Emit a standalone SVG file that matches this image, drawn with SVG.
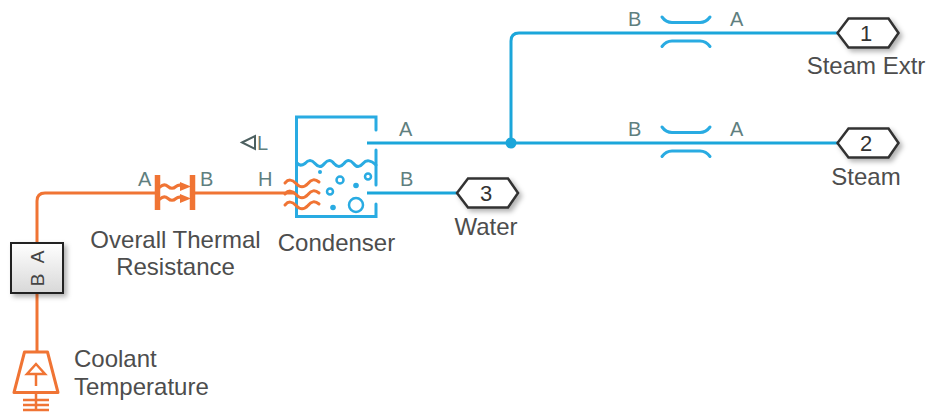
<svg xmlns="http://www.w3.org/2000/svg" width="929" height="416" viewBox="0 0 929 416">
<defs>
<linearGradient id="boxFill" x1="0" y1="0" x2="0" y2="1"><stop offset="0" stop-color="#ffffff"/><stop offset="1" stop-color="#d8d8d8"/></linearGradient>
<filter id="shadow" x="-20%" y="-20%" width="150%" height="150%"><feDropShadow dx="3" dy="3" stdDeviation="2.5" flood-color="#000" flood-opacity="0.3"/></filter>
<path id="restrictor" d="M662 0Q666 5.500 672 5.500H700Q706 5.500 710 0M662 29.500Q666 24 672 24H700Q706 24 710 29.500"/>
<path id="hex" d="M0 0L11 -14.500H51L61 0L51 14.500H11Z"/>
<path id="heatwave" d="M285 2Q290 -4 296 2.500Q302 9 308 2.500Q313 -4 319 1"/>
<path id="reswave" d="M160 1Q164 -3 168 0.500Q172 4 176 0.500Q179 -2 183 0"/>
</defs>
<style>
text{font-family:"Liberation Sans",Arial,sans-serif}
.lbl{font-size:24px;fill:#4d4d4d}
.pin{font-size:20px;fill:#5f7f7f}
.num{font-size:22px;fill:#333;text-anchor:middle}
.mid{text-anchor:middle}
.blue{fill:none;stroke:#29abe2;stroke-width:3;stroke-linecap:round}
.bluec{fill:none;stroke:#1ba6da;stroke-width:3}
.orange{fill:none;stroke:#f07434;stroke-width:3}
.wave{fill:none;stroke:#f07434;stroke-width:3;stroke-linecap:round}
.port{fill:#fff;stroke:#333;stroke-width:2.500;stroke-linejoin:miter;filter:url(#shadow)}
</style>
<g id="connectors">
<path class="orange" d="M37 245V201Q37 193 45 193H157"/>
<path class="orange" d="M192 193H296"/>
<path class="orange" d="M37 293V352"/>
<path class="bluec" d="M367 143H838"/>
<path class="bluec" d="M511 143V41Q511 33 519 33H838"/>
<path class="bluec" d="M367 193H458"/>
<circle cx="511" cy="143" r="5.500" fill="#1ba6da"/>
</g>
<g id="coolant-temperature">
<path d="M24.500 352H47.500L58 392.500H14Z" fill="#fff" stroke="#f07434" stroke-width="3" stroke-linejoin="round"/>
<path d="M36 364L27 374H45Z" fill="none" stroke="#f07434" stroke-width="2.500"/>
<path d="M36 374V386" fill="none" stroke="#f07434" stroke-width="2.500"/>
<path d="M36 393V411M23 400H49M23 405H49M23 410H49" fill="none" stroke="#f07434" stroke-width="2.500"/>
<text class="lbl" x="74" y="367">Coolant</text>
<text class="lbl" x="74" y="395">Temperature</text>
</g>
<g id="converter">
<rect x="11" y="243" width="52" height="50" fill="url(#boxFill)" stroke="#222" stroke-width="2" filter="url(#shadow)"/>
<text transform="translate(44 257) rotate(-90)" font-size="19" fill="#444" text-anchor="middle">A</text>
<text transform="translate(44 280) rotate(-90)" font-size="19" fill="#444" text-anchor="middle">B</text>
</g>
<g id="overall-thermal-resistance">
<path d="M157.500 175V210M192.500 175V210" fill="none" stroke="#f07434" stroke-width="5.500"/>
<use href="#reswave" class="wave" y="186"/>
<use href="#reswave" class="wave" y="198"/>
<path d="M180 182L191 186.500L180 191ZM180 194L191 198.500L180 203Z" fill="#f07434"/>
<text class="pin" x="138" y="186">A</text>
<text class="pin" x="200" y="186">B</text>
<text class="lbl mid" x="175.500" y="248">Overall Thermal</text>
<text class="lbl mid" x="175.500" y="275">Resistance</text>
</g>
<g id="condenser">
<path class="blue" d="M376 130V117H296.500V216.500H376V204M376 150V185"/>
<path class="blue" d="M297 163Q300 167 305 163.500Q310 157.500 315 163.500Q320 169.500 324.500 163.500Q329.500 157.500 334 163.500Q339 169.500 344 163.500Q348.500 157.500 353.500 163.500Q358 169.500 363 163.500Q368 157.500 376 165"/>
<circle cx="320" cy="172" r="2" fill="#29abe2"/>
<circle cx="340" cy="180" r="3.500" fill="none" stroke="#29abe2" stroke-width="2.500"/>
<circle cx="368" cy="176.500" r="3" fill="none" stroke="#29abe2" stroke-width="2.500"/>
<circle cx="356" cy="185.500" r="2.800" fill="#29abe2"/>
<circle cx="330" cy="191.500" r="3" fill="none" stroke="#29abe2" stroke-width="2.500"/>
<circle cx="333" cy="207.500" r="2.800" fill="#29abe2"/>
<circle cx="356" cy="205" r="7" fill="none" stroke="#29abe2" stroke-width="2.500"/>
<use href="#heatwave" class="wave" y="181"/>
<use href="#heatwave" class="wave" y="192"/>
<use href="#heatwave" class="wave" y="203"/>
<text class="pin" x="399" y="136">A</text>
<text class="pin" x="400" y="186">B</text>
<text class="pin" x="258" y="186">H</text>
<path d="M242 142.500L255 136V149Z" fill="none" stroke="#4d6060" stroke-width="2"/>
<text class="pin" x="257" y="149.500">L</text>
<text class="lbl mid" x="336.500" y="251">Condenser</text>
</g>
<g id="restriction-1">
<use href="#restrictor" class="blue" y="17"/>
<text class="pin" x="628" y="26">B</text>
<text class="pin" x="730" y="26">A</text>
</g>
<g id="restriction-2">
<use href="#restrictor" class="blue" y="127"/>
<text class="pin" x="628" y="136">B</text>
<text class="pin" x="730" y="136">A</text>
</g>
<g id="port-1">
<use href="#hex" class="port" x="837.500" y="33"/>
<text class="num" x="866" y="41">1</text>
<text class="lbl mid" x="866" y="74">Steam Extr</text>
</g>
<g id="port-2">
<use href="#hex" class="port" x="837.500" y="143"/>
<text class="num" x="866" y="151">2</text>
<text class="lbl mid" x="866" y="185">Steam</text>
</g>
<g id="port-3">
<use href="#hex" class="port" x="457" y="193"/>
<text class="num" x="486" y="201">3</text>
<text class="lbl mid" x="486" y="235">Water</text>
</g>
</svg>
